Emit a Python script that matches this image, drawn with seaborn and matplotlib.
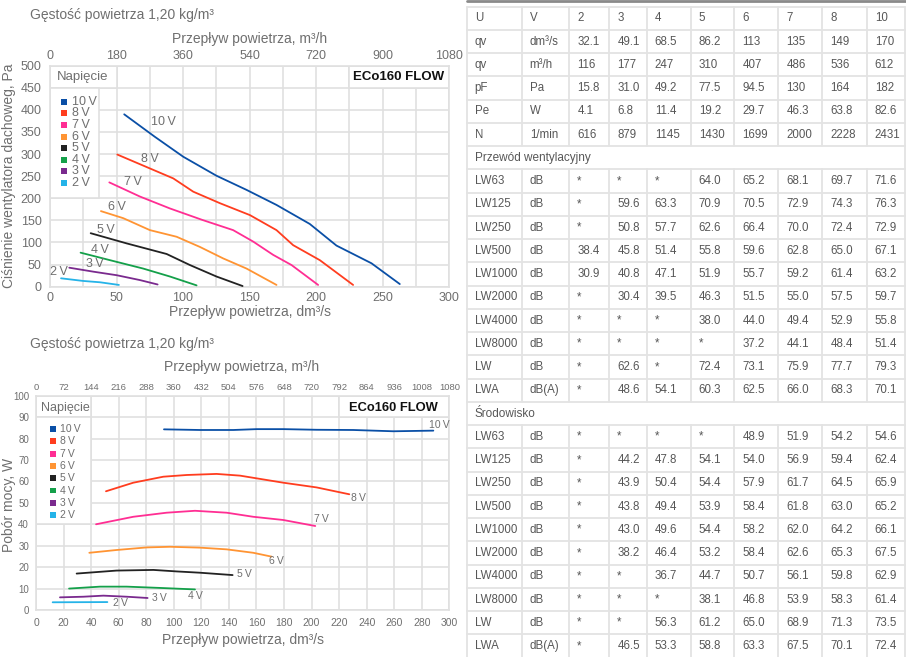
import matplotlib
matplotlib.use("Agg")
import matplotlib.pyplot as plt
import matplotlib.transforms as mtransforms
from matplotlib.patches import Rectangle
from matplotlib.ticker import MultipleLocator
import pandas as pd
import seaborn as sns

# ---------------- data ----------------
voltages = ["10 V", "8 V", "7 V", "6 V", "5 V", "4 V", "3 V", "2 V"]
line_colors = ["#0a4fa6", "#ff3d1f", "#ff2e93", "#ff9433", "#222222", "#14a04a", "#7a2a8e", "#25b3e8"]

# pressure curves (flow dm3/s, pressure Pa)
pa_q_10 = [55.8, 78.9, 100.2, 125.2, 147.8, 170.3, 195.3, 215.4, 241.7, 263.0]
pa_p_10 = [390, 339, 294, 251, 219, 185, 142, 93, 53, 6]
pa_q_8 = [50.6, 92.7, 107.7, 127.7, 150.3, 170.3, 182.8, 202.9, 227.9]
pa_p_8 = [299, 245, 215, 189, 162, 128, 94, 60, 4]
pa_q_7 = [44.6, 67.6, 90.2, 114.6, 137.7, 152.8, 167.8, 181.6, 201.6]
pa_p_7 = [236, 204, 177, 151, 128, 102, 72, 49, 4]
pa_q_6 = [38.3, 55.1, 75.1, 95.2, 112.7, 130.2, 147.8, 170.3]
pa_p_6 = [171, 155, 128, 113, 90, 64, 41, 4]
pa_q_5 = [30.6, 57.6, 87.7, 105.2, 125.2, 144.8]
pa_p_5 = [121, 98, 74, 49, 23, 1.5]
pa_q_4 = [23.0, 45.1, 70.1, 90.2, 110.2]
pa_p_4 = [77, 60, 41, 23, 3]
pa_q_3 = [14.5, 32.6, 50.1, 67.6, 80.9]
pa_p_3 = [43, 34, 26, 15, 5]
pa_q_2 = [8.3, 25.0, 37.6, 51.8]
pa_p_2 = [19, 13, 10, 4]

# power curves (flow dm3/s, power W)
w_q_10 = [92.9, 119.0, 143.2, 160.2, 179.5, 203.7, 230.3, 259.4, 288.4]
w_p_10 = [84.3, 84.0, 84.0, 84.4, 84.4, 84.1, 84.0, 83.4, 83.7]
w_q_8 = [50.8, 70.6, 92.4, 109.4, 131.1, 148.1, 179.5, 203.7, 227.4]
w_p_8 = [55.4, 59.4, 62.2, 63.0, 63.5, 62.7, 59.4, 57.2, 54.0]
w_q_7 = [43.6, 70.6, 94.8, 115.4, 138.4, 157.7, 179.5, 202.7]
w_p_7 = [40.0, 43.5, 45.4, 46.3, 45.4, 43.5, 42.0, 39.2]
w_q_6 = [38.7, 58.5, 80.3, 97.3, 119.0, 138.4, 157.7, 171.0]
w_p_6 = [26.7, 28.0, 29.2, 29.5, 29.1, 28.3, 26.7, 24.9]
w_q_5 = [29.5, 58.5, 85.2, 102.1, 119.0, 142.7]
w_p_5 = [17.0, 18.4, 18.7, 18.0, 17.4, 16.3]
w_q_4 = [24.0, 46.5, 65.8, 90.0, 115.4]
w_p_4 = [10.0, 10.9, 10.9, 10.3, 9.6]
w_q_3 = [17.4, 34.4, 48.9, 65.8, 81.0]
w_p_3 = [5.9, 6.2, 6.7, 6.2, 5.6]
w_q_2 = [12.1, 51.8]
w_p_2 = [3.6, 3.7]

# table
tbl_head = ["U", "V", "2", "3", "4", "5", "6", "7", "8", "10"]
tbl_main = [
    ["qv", "dm³/s", "32.1", "49.1", "68.5", "86.2", "113", "135", "149", "170"],
    ["qv", "m³/h", "116", "177", "247", "310", "407", "486", "536", "612"],
    ["pF", "Pa", "15.8", "31.0", "49.2", "77.5", "94.5", "130", "164", "182"],
    ["Pe", "W", "4.1", "6.8", "11.4", "19.2", "29.7", "46.3", "63.8", "82.6"],
    ["N", "1/min", "616", "879", "1145", "1430", "1699", "2000", "2228", "2431"],
]
duct_title = "Przewód wentylacyjny"
tbl_duct = [
    ["LW63", "dB", "*", "*", "*", "64.0", "65.2", "68.1", "69.7", "71.6"],
    ["LW125", "dB", "*", "59.6", "63.3", "70.9", "70.5", "72.9", "74.3", "76.3"],
    ["LW250", "dB", "*", "50.8", "57.7", "62.6", "66.4", "70.0", "72.4", "72.9"],
    ["LW500", "dB", "38.4", "45.8", "51.4", "55.8", "59.6", "62.8", "65.0", "67.1"],
    ["LW1000", "dB", "30.9", "40.8", "47.1", "51.9", "55.7", "59.2", "61.4", "63.2"],
    ["LW2000", "dB", "*", "30.4", "39.5", "46.3", "51.5", "55.0", "57.5", "59.7"],
    ["LW4000", "dB", "*", "*", "*", "38.0", "44.0", "49.4", "52.9", "55.8"],
    ["LW8000", "dB", "*", "*", "*", "*", "37.2", "44.1", "48.4", "51.4"],
    ["LW", "dB", "*", "62.6", "*", "72.4", "73.1", "75.9", "77.7", "79.3"],
    ["LWA", "dB(A)", "*", "48.6", "54.1", "60.3", "62.5", "66.0", "68.3", "70.1"],
]
env_title = "Środowisko"
tbl_env = [
    ["LW63", "dB", "*", "*", "*", "*", "48.9", "51.9", "54.2", "54.6"],
    ["LW125", "dB", "*", "44.2", "47.8", "54.1", "54.0", "56.9", "59.4", "62.4"],
    ["LW250", "dB", "*", "43.9", "50.4", "54.4", "57.9", "61.7", "64.5", "65.9"],
    ["LW500", "dB", "*", "43.8", "49.4", "53.9", "58.4", "61.8", "63.0", "65.2"],
    ["LW1000", "dB", "*", "43.0", "49.6", "54.4", "58.2", "62.0", "64.2", "66.1"],
    ["LW2000", "dB", "*", "38.2", "46.4", "53.2", "58.4", "62.6", "65.3", "67.5"],
    ["LW4000", "dB", "*", "*", "36.7", "44.7", "50.7", "56.1", "59.8", "62.9"],
    ["LW8000", "dB", "*", "*", "*", "38.1", "46.8", "53.9", "58.3", "61.4"],
    ["LW", "dB", "*", "*", "56.3", "61.2", "65.0", "68.9", "71.3", "73.5"],
    ["LWA", "dB(A)", "*", "46.5", "53.3", "58.8", "63.3", "67.5", "70.1", "72.4"],
]

pa_series = [(pa_q_10, pa_p_10), (pa_q_8, pa_p_8), (pa_q_7, pa_p_7), (pa_q_6, pa_p_6),
             (pa_q_5, pa_p_5), (pa_q_4, pa_p_4), (pa_q_3, pa_p_3), (pa_q_2, pa_p_2)]
w_series = [(w_q_10, w_p_10), (w_q_8, w_p_8), (w_q_7, w_p_7), (w_q_6, w_p_6),
            (w_q_5, w_p_5), (w_q_4, w_p_4), (w_q_3, w_p_3), (w_q_2, w_p_2)]

def long_df(series):
    recs = []
    for v, (qs, ys) in zip(voltages, series):
        for i, (q, y) in enumerate(zip(qs, ys)):
            recs.append({"U": v, "q": q, "val": y, "order": i})
    return pd.DataFrame(recs)

df_pa = long_df(pa_series)
df_w = long_df(w_series)

# ---------------- style ----------------
sns.set_theme(style="white")
plt.rcParams['font.family'] = ['Liberation Sans', 'DejaVu Sans']

GRID = "#e0e0e0"
TXT = "#6f6f6f"
TBL_TXT = "#575757"
palette = dict(zip(voltages, line_colors))
THIN = "\u2009"

W, H = 906, 657
fig = plt.figure(figsize=(W / 100, H / 100), dpi=100)
fig.patch.set_facecolor("white")
pix = mtransforms.Affine2D().scale(1 / W, -1 / H).translate(0, 1) + fig.transFigure


def style_axes(ax, xmax, ymax, xgrid, ygrid, xlab_step, ylab_step, tick_fs_x, tick_fs_y, xpad, ypad):
    ax.set_xlim(0, xmax)
    ax.set_ylim(0, ymax)
    ax.set_axisbelow(True)
    ax.xaxis.set_major_locator(MultipleLocator(xlab_step))
    ax.xaxis.set_minor_locator(MultipleLocator(xgrid))
    ax.yaxis.set_major_locator(MultipleLocator(ylab_step))
    ax.yaxis.set_minor_locator(MultipleLocator(ygrid))
    ax.grid(True, which="both", color=GRID, linewidth=1.2)
    for s in ax.spines.values():
        s.set_color(GRID)
        s.set_linewidth(1.2)
    ax.tick_params(axis="x", which="both", length=0, labelsize=tick_fs_x, labelcolor=TXT, pad=xpad)
    ax.tick_params(axis="y", which="both", length=0, labelsize=tick_fs_y, labelcolor=TXT, pad=ypad)
    ax.set_xlabel("")
    ax.set_ylabel("")


def box(ax, x0, y0, x1, y1):
    ax.add_patch(Rectangle((x0, y0), x1 - x0, y1 - y0, facecolor="white",
                           edgecolor=GRID, linewidth=1.2, zorder=1))

# ---------------- chart 1: pressure ----------------
ax1 = fig.add_axes([50 / W, 1 - 286.7 / H, 399 / W, 221 / H])
sns.lineplot(data=df_pa, x="q", y="val", hue="U", palette=palette, sort=False,
             estimator=None, units="U", legend=False, linewidth=1.3, ax=ax1, zorder=3)
style_axes(ax1, 300, 500, 25, 50, 50, 50, 9, 9, 4, 6)
box(ax1, 0, 450, 50, 500)
box(ax1, 0, 200, 37, 450)
box(ax1, 225, 450, 300, 500)
sec1 = ax1.secondary_xaxis("top", functions=(lambda x: x * 3.6, lambda x: x / 3.6))
sec1.set_xticks(range(0, 1081, 180))
sec1.tick_params(length=0, labelsize=9, labelcolor=TXT, pad=3)
sec1.spines["top"].set_visible(False)

pa_label_pos = {"10 V": (85, 373), "8 V": (75, 288), "7 V": (62.6, 236), "6 V": (50, 180),
                "5 V": (41.8, 128), "4 V": (37.6, 84), "3 V": (33.8, 51), "2 V": (7, 34)}
for v in voltages:
    x, y = pa_label_pos[v]
    ax1.text(x, y, v.replace(" ", THIN), fontsize=9, color=TXT, ha="center", va="center", zorder=4)

fig.text(56.7, 77.3, "Napięcie", transform=pix, fontsize=9.5, color=TXT, ha="left", va="center")
fig.text(399, 77.3, "ECo160 FLOW", transform=pix, fontsize=9.5, fontweight="bold", color="#111111",
         ha="center", va="center")
for i, (v, c) in enumerate(zip(voltages, line_colors)):
    yc = 101.7 + 11.6 * i
    fig.add_artist(Rectangle((60.7, yc - 3), 6, 6, transform=pix, facecolor=c, edgecolor="none"))
    fig.text(71.7, yc, v.replace(" ", THIN), transform=pix, fontsize=9, color=TXT, ha="left", va="center")

fig.text(30, 15, "Gęstość powietrza 1,20 kg/m³", transform=pix, fontsize=10, color=TXT, ha="left", va="center")
fig.text(250, 39, "Przepływ powietrza, m³/h", transform=pix, fontsize=10, color=TXT, ha="center", va="center")
fig.text(250, 312, "Przepływ powietrza, dm³/s", transform=pix, fontsize=10, color=TXT, ha="center", va="center")
fig.text(9, 176, "Ciśnienie wentylatora dachoweg, Pa", transform=pix, fontsize=10, color=TXT,
         ha="center", va="center", rotation=90)

# ---------------- chart 2: power ----------------
ax2 = fig.add_axes([36 / W, 1 - 610 / H, 413.3 / W, 214.3 / H])
sns.lineplot(data=df_w, x="q", y="val", hue="U", palette=palette, sort=False,
             estimator=None, units="U", legend=False, linewidth=1.3, ax=ax2, zorder=3)
style_axes(ax2, 300, 100, 20, 10, 20, 10, 7.5, 7, 6, 5)
box(ax2, 0, 90, 40, 100)
box(ax2, 0, 40, 40, 90)
box(ax2, 220, 90, 300, 100)
sec2 = ax2.secondary_xaxis("top", functions=(lambda x: x * 3.6, lambda x: x / 3.6))
sec2.set_xticks(range(0, 1081, 72))
sec2.tick_params(length=0, labelsize=6.8, labelcolor=TXT, pad=3)
sec2.spines["top"].set_visible(False)

w_label_pos = {"10 V": (292.8, 86.3), "8 V": (234, 52.4), "7 V": (207.4, 42.3), "6 V": (174.2, 22.9),
               "5 V": (151.2, 16.6), "4 V": (115.4, 6.5), "3 V": (89.3, 5.75), "2 V": (61, 3.1)}
for v in voltages:
    x, y = w_label_pos[v]
    ax2.text(x, y, v.replace(" ", THIN), fontsize=7.5, color=TXT, ha="center", va="center", zorder=4)

fig.text(41, 408.3, "Napięcie", transform=pix, fontsize=9, color=TXT, ha="left", va="center")
fig.text(393, 408, "ECo160 FLOW", transform=pix, fontsize=9.3, fontweight="bold", color="#111111",
         ha="center", va="center")
for i, (v, c) in enumerate(zip(voltages, line_colors)):
    yc = 429 + 12.3 * i
    fig.add_artist(Rectangle((50, yc - 2.9), 5.8, 5.8, transform=pix, facecolor=c, edgecolor="none"))
    fig.text(60, yc, v.replace(" ", THIN), transform=pix, fontsize=7.5, color=TXT, ha="left", va="center")

fig.text(30, 344, "Gęstość powietrza 1,20 kg/m³", transform=pix, fontsize=10, color=TXT, ha="left", va="center")
fig.text(242, 367, "Przepływ powietrza, m³/h", transform=pix, fontsize=10, color=TXT, ha="center", va="center")
fig.text(243, 640, "Przepływ powietrza, dm³/s", transform=pix, fontsize=10, color=TXT, ha="center", va="center")
fig.text(9.3, 505, "Pobór mocy, W", transform=pix, fontsize=10, color=TXT, ha="center", va="center", rotation=90)

# ---------------- table ----------------
col_edges = [466.7, 521.7, 569.3, 609.3, 646.7, 690.7, 734.3, 778.3, 822.3, 866.7, 905.0]
row_top = 6.7
row_h = 23.25
TBL_LINE = "#e3e3e3"

table_rows = [("row", tbl_head)] + [("row", r) for r in tbl_main] + [("sec", duct_title)] + \
             [("row", r) for r in tbl_duct] + [("sec", env_title)] + [("row", r) for r in tbl_env]

fig.add_artist(plt.Line2D([467, 906], [1.0, 1.0], transform=pix, color="#8a8a8a", linewidth=2.0))
for i, (kind, content) in enumerate(table_rows):
    y0 = row_top + row_h * i
    y1 = y0 + row_h
    yc = (y0 + y1) / 2
    fig.add_artist(plt.Line2D([col_edges[0], col_edges[-1]], [y0, y0], transform=pix,
                              color=TBL_LINE, linewidth=1.3))
    if kind == "sec":
        xs = [col_edges[0], col_edges[-1]]
        fig.text(col_edges[0] + 8, yc, content, transform=pix, fontsize=8.5, color=TBL_TXT,
                 ha="left", va="center")
    else:
        xs = col_edges
        for j, cell in enumerate(content):
            fig.text(col_edges[j] + 8, yc, cell, transform=pix, fontsize=8.3, color=TBL_TXT,
                     ha="left", va="center")
    for x in xs:
        fig.add_artist(plt.Line2D([x, x], [y0, y1], transform=pix, color=TBL_LINE, linewidth=1.3))
y_end = row_top + row_h * len(table_rows)
fig.add_artist(plt.Line2D([col_edges[0], col_edges[-1]], [y_end, y_end], transform=pix,
                          color=TBL_LINE, linewidth=1.3))

fig.savefig("out.png", dpi=100, facecolor="white")
